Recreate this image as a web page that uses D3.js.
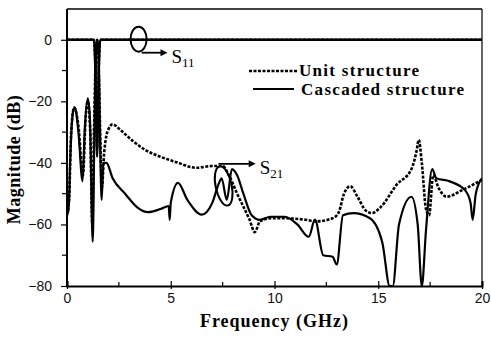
<!DOCTYPE html>
<html>
<head>
<meta charset="utf-8">
<script src="https://cdn.jsdelivr.net/npm/d3@7"></script>
<style>
  body { margin: 0; background: #fff; }
  .tick text { font-family: "Liberation Sans", Arial, sans-serif; font-size: 14px; }
  .axisTitle { font-family: "Liberation Serif", "Times New Roman", serif; font-weight: bold; font-size: 18px; }
  .legend text { font-family: "Liberation Serif", "Times New Roman", serif; font-weight: bold; font-size: 17px; letter-spacing: 1.3px; }
  .note text { font-family: "Liberation Serif", "Times New Roman", serif; }
</style>
</head>
<body>
<svg class="svgChart"></svg>
<script>
// chart data (frequency in GHz, magnitude in dB)
var unitFreq = [0, 0.1, 0.2, 0.35, 0.55, 0.77, 0.9, 1.0, 1.12, 1.22, 1.3, 1.4, 1.45, 1.5, 1.6, 1.68, 1.8, 2.0, 2.2, 2.6, 3.2, 3.75, 4.5, 5.2, 6.25, 7.0, 7.5, 7.8, 8.2, 8.8, 9.05, 9.3, 9.8, 10.5, 11.5, 12.0, 12.8, 13.1, 13.35, 13.65, 14.0, 14.4, 14.7, 15.1, 15.9, 16.6, 16.85, 16.95, 17.1, 17.3, 17.45, 17.65, 17.9, 18.3, 19.0, 20];
var unitS21 = [-57, -52, -30, -22, -28, -44, -25, -20, -30, -60, -30, -3, 0, -3, -30, -48, -36, -29, -27.5, -29.5, -33, -35.7, -38, -39.6, -41.6, -41, -41, -44, -50, -58.5, -62.5, -59, -58, -58, -58.5, -59, -58, -56, -50, -47.6, -51, -55.5, -56.3, -54.5, -47, -42, -36, -32.5, -40, -55, -57, -44, -48, -51, -49, -45.5];

var cascFreq = [0, 0.08, 0.15, 0.3, 0.38, 0.55, 0.75, 0.85, 1.0, 1.1, 1.24, 1.32, 1.42, 1.46, 1.52, 1.6, 1.67, 1.75, 1.9, 2.2, 2.8, 3.4, 3.9, 4.5, 4.9, 4.95, 5.0, 5.35, 5.8, 6.5, 7.0, 7.3, 7.45, 7.7, 7.95, 8.2, 8.5, 8.9, 9.3, 9.8, 10.5, 11.1, 11.65, 11.95, 12.35, 12.8, 13.0, 13.3, 13.8, 14.6, 15.2, 15.55, 15.7, 16.0, 16.6, 16.9, 17.1, 17.3, 17.6, 17.8, 18.45, 19.2, 19.45, 19.55, 19.7, 20];
var cascS21 = [-50, -56, -40, -23, -22, -30, -46, -30, -19, -25, -65.6, -30, -2, 0, -4, -35, -52, -40, -40, -45, -50, -54.5, -56, -55, -54, -58.5, -53, -46.5, -52, -56.8, -53, -47, -45, -52, -42, -44, -50, -57, -58.5, -57.5, -57.5, -60, -64, -58.4, -70, -70.5, -73, -57, -56.3, -58, -66, -80, -80, -60, -51, -60, -80, -62, -42, -45, -46, -49, -53, -58.5, -50, -45];

var s11Freq = [0, 1.3, 1.38, 1.45, 1.52, 1.6, 20];
var unitS11 = [0, 0, -12, -35, -12, 0, 0];
var cascS11 = [0, 0, -14, -38, -14, 0, 0];

var xTicks = [0, 5, 10, 15, 20];
var yTicks = [0, -20, -40, -60, -80];
var legendLabels = ["Unit structure", "Cascaded structure"];

var W = 491, H = 337;
var margin = {top: 9, right: 9, bottom: 51, left: 67};
var width = W - margin.left - margin.right;
var height = H - margin.top - margin.bottom;

var svg = d3.select('.svgChart')
    .attr('width', W)
    .attr('height', H);

var xScale = d3.scaleLinear().domain([0, 20]).range([0, width]);
var yScale = d3.scaleLinear().domain([-80, 10]).range([height, 0]);

var g = svg.append('g')
    .attr('transform', 'translate(' + margin.left + ',' + margin.top + ')');

g.append('clipPath').attr('id', 'plotClip')
  .append('rect').attr('x', 0).attr('y', 0).attr('width', width).attr('height', height + 1);

// frame (top and right thinner)
g.append('line').attr('x1', 0).attr('x2', width).attr('y1', 0).attr('y2', 0)
    .attr('stroke', '#000').attr('stroke-width', 1.5);
g.append('line').attr('x1', width).attr('x2', width).attr('y1', 0).attr('y2', height)
    .attr('stroke', '#000').attr('stroke-width', 1.2);

// x axis: major ticks every 5, minor every 2.5, pointing up
var xAxis = d3.axisBottom(xScale).tickValues(xTicks).tickSize(-5).tickPadding(7).tickFormat(d3.format('d'));
var xg = g.append('g').attr('class', 'xAxis')
    .attr('transform', 'translate(0,' + height + ')')
    .call(xAxis);
xg.selectAll('.tick line').attr('y2', -5).attr('y1', 3);
g.append('g').attr('transform', 'translate(0,' + height + ')')
  .selectAll('line').data([2.5, 7.5, 12.5, 17.5]).enter().append('line')
    .attr('x1', d => xScale(d)).attr('x2', d => xScale(d))
    .attr('y1', 0).attr('y2', -4).attr('stroke', '#000').attr('stroke-width', 1.2);

// y axis: labels every 20, minor every 10, pointing out
var yAxis = d3.axisLeft(yScale).tickValues(yTicks).tickSize(6).tickPadding(9);
var yg = g.append('g').attr('class', 'yAxis').call(yAxis);
g.append('g').selectAll('line').data([-10, -30, -50, -70]).enter().append('line')
    .attr('x1', 0).attr('x2', -5)
    .attr('y1', d => yScale(d)).attr('y2', d => yScale(d))
    .attr('stroke', '#000').attr('stroke-width', 1.2);

[xg, yg].forEach(function(a){
  a.select('.domain').attr('stroke-width', 2);
  a.selectAll('.tick line').attr('stroke-width', 1.2);
  a.selectAll('.tick text').attr('fill', '#111');
});
yg.select('.domain').attr('d', 'M0,' + (height + 1) + 'V0');

// curves
var line = d3.line()
    .x(d => xScale(d[0]))
    .y(d => yScale(Math.max(d[1], -80)))
    .curve(d3.curveMonotoneX);

var plot = g.append('g').attr('class', 'chart').attr('clip-path', 'url(#plotClip)');

function drawSeries(freq, vals, dashed, w){
  plot.append('path')
      .datum(freq.map((f, i) => [f, vals[i]]))
      .attr('fill', 'none')
      .attr('stroke', '#000')
      .attr('stroke-width', w)
      .attr('stroke-linejoin', 'round')
      .attr('stroke-dasharray', dashed ? '3,1.5' : null)
      .attr('d', line);
}
drawSeries(s11Freq, cascS11, false, 2.4);
drawSeries(s11Freq, unitS11, true, 2.4);
drawSeries(cascFreq, cascS21, false, 2.2);
drawSeries(unitFreq, unitS21, true, 2.6);

// legend
var legend = g.append('g').attr('class', 'legend');
legend.selectAll('line').data(legendLabels).enter().append('line')
    .attr('x1', (d, i) => i ? 186 : 182)
    .attr('x2', (d, i) => i ? 227 : 230)
    .attr('y1', (d, i) => 62 + i * 18)
    .attr('y2', (d, i) => 62 + i * 18)
    .attr('stroke', '#000')
    .attr('stroke-width', (d, i) => i ? 1.8 : 2.4)
    .attr('stroke-dasharray', (d, i) => i ? null : '3,1.5');
legend.selectAll('text').data(legendLabels).enter().append('text')
    .attr('x', (d, i) => i ? 234 : 232)
    .attr('y', (d, i) => 62 + i * 19)
    .attr('dy', '0.32em')
    .text(d => d);

// S11 / S21 annotations
function note(f, db, rx, ry, rot, ax0, ax1, ady, label, sub){
  var n = g.append('g').attr('class', 'note');
  var cx = xScale(f), cy = yScale(db);
  n.append('ellipse')
      .attr('cx', cx).attr('cy', cy).attr('rx', rx).attr('ry', ry)
      .attr('transform', 'rotate(' + rot + ',' + cx + ',' + cy + ')')
      .attr('fill', 'none').attr('stroke', '#000').attr('stroke-width', 2);
  var ay = yScale(ady);
  n.append('line')
      .attr('x1', xScale(ax0)).attr('x2', xScale(ax1)).attr('y1', ay).attr('y2', ay)
      .attr('stroke', '#000').attr('stroke-width', 1.8);
  n.append('path')
      .attr('d', 'M' + (xScale(ax1) + 4) + ',' + ay + 'l-7,-3.5v7z')
      .attr('fill', '#000');
  var t = n.append('text').attr('x', xScale(ax1) + 8).attr('y', ay + 10).style('font-size', '19px');
  t.append('tspan').text(label);
  t.append('tspan').attr('dy', 4).style('font-size', '13px').text(sub);
}
note(3.45, 0.2, 8, 12.5, 0, 3.6, 4.65, -4.2, 'S', '11');
note(7.55, -47.5, 8, 20, -12, 7.3, 8.9, -40.3, 'S', '21');

// axis titles
svg.append('text').attr('class', 'axisTitle')
    .attr('x', margin.left + width / 2)
    .attr('y', 327)
    .attr('text-anchor', 'middle')
    .style('letter-spacing', '1px')
    .text('Frequency (GHz)');
svg.append('text').attr('class', 'axisTitle')
    .attr('transform', 'translate(20,' + (margin.top + height / 2 + 12) + ') rotate(-90)')
    .attr('text-anchor', 'middle')
    .style('letter-spacing', '0.5px')
    .text('Magnitude (dB)');
</script>
</body>
</html>
